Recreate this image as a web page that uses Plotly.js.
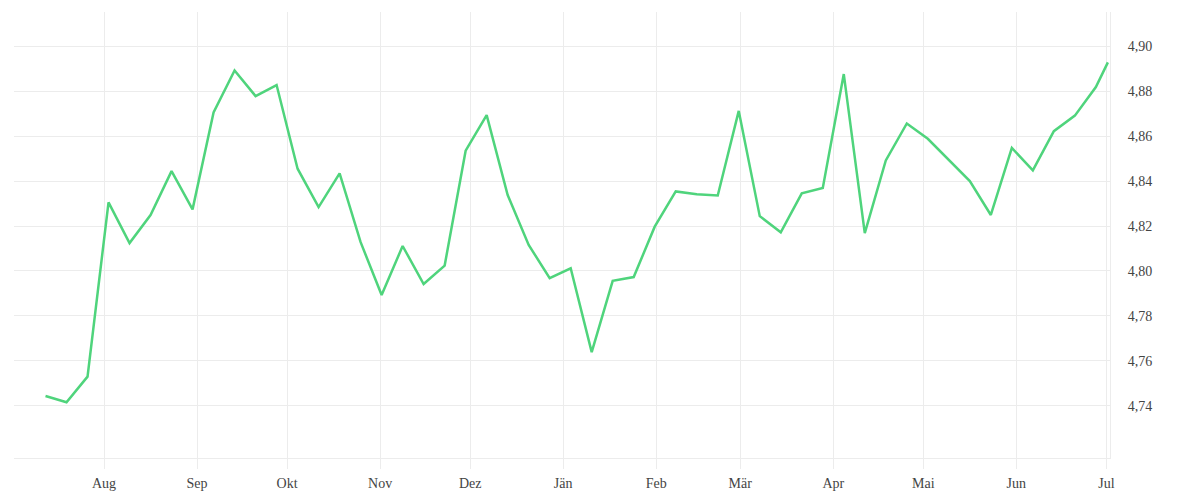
<!DOCTYPE html>
<html>
<head>
<meta charset="utf-8">
<script src="https://cdn.plot.ly/plotly-3.0.1.min.js"></script>
<style>
  html, body { margin: 0; padding: 0; background: #fff; }
  #chart { width: 1200px; height: 500px; }
</style>
</head>
<body>
<div id="chart"></div>
<script>
// weekly values
const dates = [
  "2022-07-12", "2022-07-19", "2022-07-26", "2022-08-02", "2022-08-09", "2022-08-16",
  "2022-08-23", "2022-08-30", "2022-09-06", "2022-09-13", "2022-09-20", "2022-09-27",
  "2022-10-04", "2022-10-11", "2022-10-18", "2022-10-25", "2022-11-01", "2022-11-08",
  "2022-11-15", "2022-11-22", "2022-11-29", "2022-12-06", "2022-12-13", "2022-12-20",
  "2022-12-27", "2023-01-03", "2023-01-10", "2023-01-17", "2023-01-24", "2023-01-31",
  "2023-02-07", "2023-02-14", "2023-02-21", "2023-02-28", "2023-03-07", "2023-03-14",
  "2023-03-21", "2023-03-28", "2023-04-04", "2023-04-11", "2023-04-18", "2023-04-25",
  "2023-05-02", "2023-05-09", "2023-05-16", "2023-05-23", "2023-05-30", "2023-06-06",
  "2023-06-13", "2023-06-20", "2023-06-27", "2023-07-01",
].map((d) => d + " 12:00");

const values = [
  4.7444, 4.7416, 4.7530, 4.8305, 4.8124, 4.8249,
  4.8444, 4.8274, 4.8705, 4.8892, 4.8778, 4.8827,
  4.8455, 4.8284, 4.8434, 4.8128, 4.7893, 4.8111,
  4.7942, 4.8024, 4.8535, 4.8693, 4.8338, 4.8116,
  4.7968, 4.8012, 4.7639, 4.7956, 4.7973, 4.8197,
  4.8354, 4.8341, 4.8336, 4.8712, 4.8244, 4.8172,
  4.8345, 4.8369, 4.8876, 4.8168, 4.8492, 4.8656,
  4.8588, 4.8493, 4.8400, 4.8249, 4.8547, 4.8448,
  4.8622, 4.8691, 4.8818, 4.8928,
];

// month ticks (Austrian German)
const monthTicks = [
  "2022-08-01", "2022-09-01", "2022-10-01", "2022-11-01", "2022-12-01", "2023-01-01",
  "2023-02-01", "2023-03-01", "2023-04-01", "2023-05-01", "2023-06-01", "2023-07-01",
];
const monthLabels = ["Aug", "Sep", "Okt", "Nov", "Dez", "Jän", "Feb", "Mär", "Apr", "Mai", "Jun", "Jul"];

const yTicks = [4.74, 4.76, 4.78, 4.80, 4.82, 4.84, 4.86, 4.88, 4.90];

const gridColor = "#ececec";

const trace = [
  {
    x: dates,
    y: values,
    type: "scatter",
    mode: "lines",
    line: { color: "#4fd47c", width: 2.5 },
    hoverinfo: "skip",
  },
];

const layout = {
  width: 1200,
  height: 500,
  margin: { t: 12, b: 42, l: 14, r: 90 },
  paper_bgcolor: "#fff",
  plot_bgcolor: "#fff",
  separators: ",.",
  showlegend: false,
  font: { family: "Liberation Serif, serif", size: 14, color: "#444" },
  xaxis: {
    type: "date",
    range: ["2022-07-02", "2023-07-02 05:00"],
    tickvals: monthTicks,
    ticktext: monthLabels,
    showgrid: true,
    gridcolor: gridColor,
    ticks: "outside",
    ticklen: 10,
    tickcolor: gridColor,
    ticklabelstandoff: 2,
    showline: true,
    linecolor: gridColor,
    linewidth: 1,
    zeroline: false,
  },
  yaxis: {
    side: "right",
    range: [4.7168, 4.9152],
    tickmode: "array",
    tickvals: yTicks,
    tickformat: ".2f",
    showgrid: true,
    gridcolor: gridColor,
    ticks: "",
    ticklabelstandoff: 14,
    showline: true,
    linecolor: gridColor,
    zeroline: false,
  },
};

Plotly.newPlot("chart", trace, layout, { displayModeBar: false, staticPlot: true });
</script>
</body>
</html>
